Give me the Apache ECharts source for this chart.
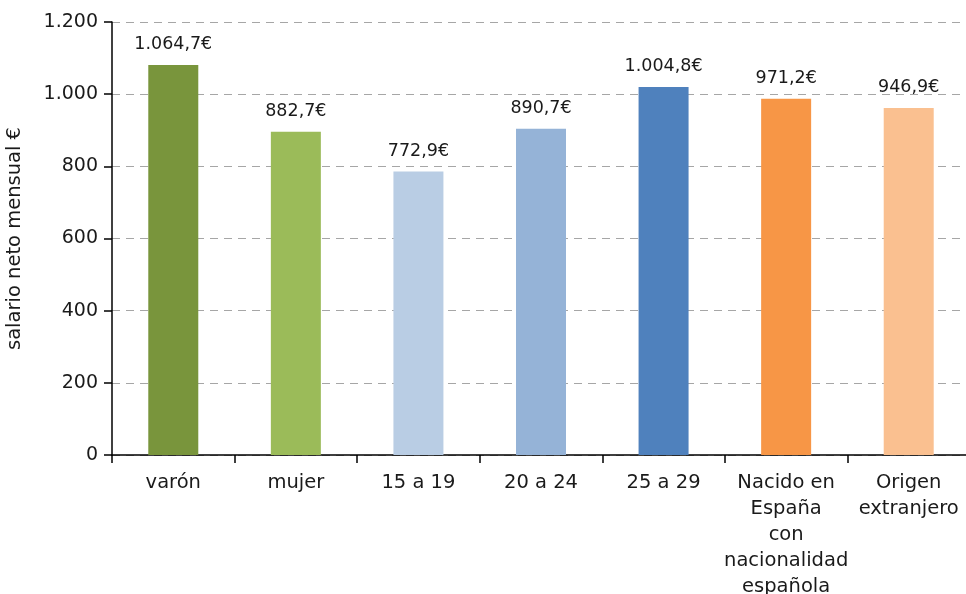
<!DOCTYPE html>
<html>
<head>
<meta charset="utf-8">
<style>
  html, body { margin: 0; padding: 0; background: #fff; }
  #chart { width: 966px; height: 594px; }
</style>
<script src="https://cdn.jsdelivr.net/npm/echarts@6/dist/echarts.min.js"></script>
</head>
<body>
<div id="chart"></div>
<script>
  // categories as printed under the axis
  var categories = ['varón', 'mujer', '15 a 19', '20 a 24', '25 a 29',
    'Nacido en\nEspaña\ncon\nnacionalidad\nespañola', 'Origen\nextranjero'];
  // bar heights as drawn
  var barValues = [1081, 896, 786, 904, 1020, 987, 962];
  // value labels printed above the bars
  var labelTexts = ['1.064,7€', '882,7€', '772,9€', '890,7€', '1.004,8€', '971,2€', '946,9€'];
  var barColors = ['#79953c', '#9bbb59', '#b9cde4', '#95b3d7', '#4f81bd', '#f79646', '#fac090'];
  var yTicks = { min: 0, max: 1200, interval: 200 };

  var FONT = 'DejaVu Sans';

  function thousands(v) {
    return String(v).replace(/\B(?=(\d{3})+(?!\d))/g, '.');
  }

  var chart = echarts.init(document.getElementById('chart'));

  chart.setOption({
    backgroundColor: '#fff',
    animation: false,
    grid: { left: 112, top: 22, width: 858, bottom: 139, outerBoundsMode: 'none', containLabel: false },
    xAxis: {
      type: 'category',
      data: categories,
      axisLine: { lineStyle: { color: '#000', width: 1.5 } },
      axisTick: { show: true, length: 8, lineStyle: { color: '#000', width: 1.5 } },
      axisLabel: {
        color: '#1a1a1a', fontFamily: FONT, fontSize: 19.5, lineHeight: 26,
        margin: 15, interval: 0
      }
    },
    yAxis: {
      type: 'value',
      min: yTicks.min,
      max: yTicks.max,
      interval: yTicks.interval,
      name: 'salario neto mensual €',
      nameLocation: 'middle',
      nameGap: 87,
      nameTextStyle: { color: '#1a1a1a', fontFamily: FONT, fontSize: 19.5 },
      axisLine: { show: true, lineStyle: { color: '#000', width: 1.5 } },
      axisTick: { show: true, length: 8, lineStyle: { color: '#000', width: 1.5 } },
      axisLabel: {
        color: '#1a1a1a', fontFamily: FONT, fontSize: 19, margin: 14,
        formatter: thousands
      },
      splitLine: { lineStyle: { color: '#a6a6a6', width: 1.2, type: [8, 6] } }
    },
    series: [{
      type: 'bar',
      barWidth: 50,
      data: barValues.map(function (v, i) {
        return { value: v, itemStyle: { color: barColors[i] } };
      }),
      label: {
        show: true,
        position: 'top',
        distance: 11,
        color: '#1a1a1a',
        fontFamily: FONT,
        fontSize: 17.5,
        formatter: function (p) { return labelTexts[p.dataIndex]; }
      }
    }]
  });
</script>
</body>
</html>
